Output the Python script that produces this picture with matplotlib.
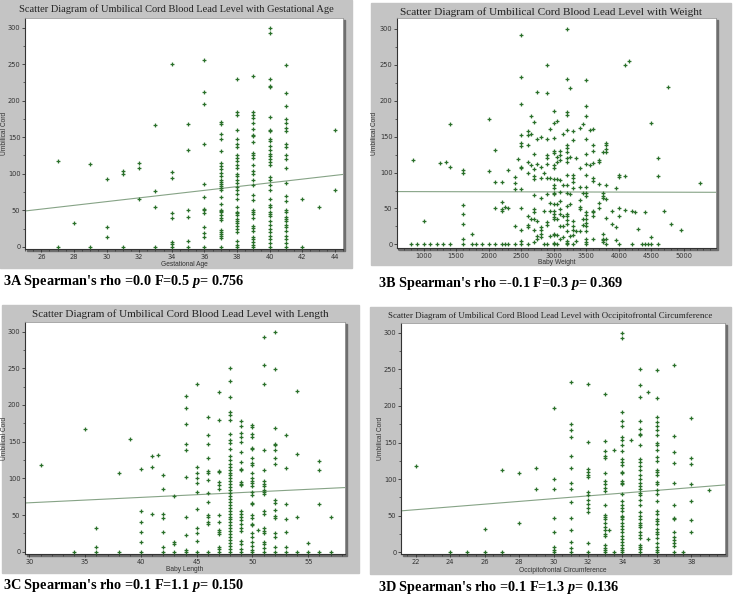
import matplotlib.pyplot as plt
from matplotlib.patches import Rectangle
from matplotlib.ticker import MultipleLocator

plt.rcParams['mathtext.fontset'] = 'custom'
plt.rcParams['mathtext.rm'] = 'Liberation Serif:bold'
plt.rcParams['mathtext.it'] = 'Liberation Serif:italic:bold'

W, H = 736, 607

# lead level (y) per x column
ga_cols = {
    27: [118, 0], 28: [33], 29: [113, 0], 30: [93, 27, 13], 31: [104, 100, 0],
    32: [115, 108, 65], 33: [167, 76, 55, 0], 34: [250, 102, 94, 46, 40, 6, 4, 0],
    35: [168, 132, 50, 41, 8, 0],
    36: [255, 212, 196, 140, 86, 68, 52, 50, 46, 27, 19, 13, 0],
    37: [171, 168, 154, 148, 131, 114, 110, 106, 101, 97, 92, 89, 86, 83, 80, 78,
         68, 58, 51, 49, 47, 44, 40, 37, 23, 20, 17, 15, 12, 0],
    38: [230, 185, 180, 160, 147, 140, 137, 125, 122, 118, 112, 108, 100, 97, 91,
         87, 82, 78, 72, 65, 55, 48, 46, 43, 38, 35, 32, 28, 24, 20, 8, 3, 0],
    39: [234, 184, 180, 176, 170, 161, 153, 151, 144, 129, 126, 121, 112, 104, 99,
         91, 85, 71, 64, 51, 48, 45, 40, 29, 26, 22, 14, 10, 7, 3, 0],
    40: [300, 292, 230, 220, 218, 178, 160, 158, 147, 145, 138, 132, 127, 124, 120,
         116, 112, 95, 91, 85, 78, 65, 57, 54, 47, 45, 42, 35, 30, 24, 20, 15, 10, 5, 0],
    41: [249, 211, 192, 175, 170, 163, 158, 140, 137, 126, 120, 108, 87, 70, 62, 50,
         47, 41, 38, 35, 30, 27, 21, 15, 10, 5, 0],
    42: [65, 0], 43: [55], 44: [160, 78],
}
ga_fit = [49, 99]

wt_cols = {
    800: [0], 830: [118], 900: [0], 1000: [33, 0], 1100: [0], 1200: [0], 1250: [113],
    1300: [0], 1350: [115], 1400: [167, 108, 0], 1600: [104, 100, 55, 42, 28, 7, 0],
    1750: [14, 0], 1800: [0], 1900: [0], 2000: [174, 102, 0], 2100: [132, 87, 51, 0],
    2200: [87, 59, 49, 46, 0], 2250: [52, 0], 2300: [103, 50, 0],
    2400: [94, 86, 77, 25, 0], 2450: [119],
    2500: [292, 233, 196, 152, 141, 137, 108, 106, 77, 50, 20, 5, 0],
    2600: [158, 152, 138, 115, 99, 40, 27, 24, 0], 2650: [178, 154, 110, 36],
    2700: [170, 126, 105, 95, 91, 69, 49, 45, 36, 20, 3],
    2750: [212, 147, 112, 33, 12, 8], 2800: [149, 108, 92, 65, 24, 20, 14, 10],
    2850: [99, 47, 0], 2900: [250, 210, 147, 124, 120, 112, 92, 70, 31, 27, 0],
    2950: [160, 93, 57, 46, 12],
    3000: [185, 169, 148, 130, 127, 110, 106, 91, 82, 78, 72, 70, 56, 47, 43, 38,
           36, 15, 13, 2, 0],
    3050: [172, 122, 114, 91, 56, 36, 13, 0],
    3100: [130, 125, 117, 90, 73, 60, 49, 42, 26, 8], 3150: [154, 82, 40, 25, 10],
    3200: [300, 230, 184, 180, 159, 139, 134, 128, 120, 115, 97, 82, 72, 54, 42, 40,
           34, 28, 18, 5, 2, 0],
    3250: [217, 122, 70, 56, 12], 3300: [158, 145, 97, 93, 87, 78, 32, 26, 20, 13, 0],
    3350: [120, 19, 5], 3400: [162, 107, 80, 62, 52, 49, 18], 3450: [167, 72, 35, 27],
    3500: [229, 192, 179, 146, 126, 112, 96, 80, 71, 68, 45, 41, 36, 30, 26, 18, 8, 3, 0],
    3550: [159, 111], 3600: [160, 138, 130, 113, 92, 88, 47, 45, 40, 7],
    3700: [117, 115, 84, 57, 50], 3750: [128, 72, 68, 65, 15, 8, 6, 3],
    3800: [141, 138, 133, 128, 83, 63, 37, 8, 0], 3900: [47, 28], 3950: [79, 24, 6],
    4000: [97, 94, 50, 40, 0], 4100: [249, 95, 48], 4150: [255], 4200: [46, 0],
    4250: [45], 4300: [22], 4350: [0], 4400: [45, 0], 4450: [0], 4500: [169, 10, 0],
    4600: [120, 95, 0], 4700: [47], 4750: [219], 4800: [28], 4950: [20], 5250: [85],
}
wt_fit = [73.5, 72.5]

len_cols = {
    31: [118], 34: [0], 35: [167], 36: [33, 7, 0], 38: [108, 0], 39: [154],
    40: [113, 55, 41, 27, 14, 0], 41: [131, 115, 51], 41.5: [132],
    42: [104, 86, 52, 46, 27, 6, 0], 43: [76, 14, 11, 0],
    44: [212, 196, 174, 147, 138, 102, 47, 23, 2, 0],
    45: [229, 115, 108, 101, 94, 82, 58, 32, 25, 15, 0],
    46: [184, 159, 147, 128, 110, 108, 98, 80, 68, 50, 47, 40, 38, 0],
    47: [217, 179, 110, 109, 95, 91, 86, 50, 40, 30, 27, 24, 7, 4, 0],
    48: [250, 233, 211, 190, 186, 180, 160, 152, 148, 140, 130, 125, 120, 116, 112,
         108, 104, 100, 96, 92, 88, 84, 80, 76, 72, 68, 64, 60, 55, 52, 48, 44, 40,
         36, 32, 28, 24, 20, 16, 12, 8, 4, 0],
    49: [178, 171, 162, 156, 150, 136, 122, 113, 112, 95, 92, 91, 55, 51, 47, 43, 38,
         33, 28, 15, 10, 4, 0],
    50: [173, 170, 160, 157, 141, 140, 128, 121, 118, 108, 101, 97, 94, 90, 81, 77,
         67, 65, 50, 46, 38, 36, 25, 20, 14, 8, 3, 0],
    50.5: [30],
    51: [292, 255, 229, 138, 111, 97, 93, 90, 84, 81, 79, 55, 51, 32, 28, 25, 14, 10, 5, 0],
    52: [300, 249, 168, 147, 145, 139, 128, 120, 70, 66, 57, 49, 46, 26, 20, 7, 0],
    53: [159, 114, 65, 45, 27, 7, 0], 54: [219, 133, 48, 0], 55: [12, 0],
    56: [124, 112, 65, 0], 57: [47, 0],
}
len_fit = [66.5, 87.5]

ofc_cols = {
    22: [118], 24: [0], 25: [0], 26: [32, 0], 27: [113, 0], 28: [108, 40],
    29: [115, 87], 30: [197, 100, 86, 47, 27, 7, 3, 0],
    31: [233, 175, 167, 158, 132, 115, 95, 86, 68, 47, 30, 14, 6, 0],
    32: [230, 151, 114, 110, 106, 103, 82, 78, 72, 66, 60, 55, 13, 0],
    33: [217, 152, 138, 131, 129, 108, 97, 93, 88, 83, 65, 51, 48, 45, 40, 35, 31,
         25, 22, 10, 6, 3, 0],
    33.2: [30], 33.5: [140, 0],
    34: [300, 293, 192, 180, 172, 158, 153, 146, 138, 128, 124, 119, 110, 108, 98,
         95, 93, 80, 70, 65, 60, 57, 50, 48, 45, 40, 36, 32, 27, 22, 18, 14, 10, 6, 3, 0],
    34.5: [153],
    35: [250, 229, 212, 179, 168, 162, 160, 146, 127, 123, 118, 112, 106, 100, 94,
         91, 86, 81, 78, 72, 65, 55, 50, 45, 40, 37, 34, 28, 24, 20, 10, 7, 4, 0],
    35.5: [219, 18],
    36: [249, 211, 185, 178, 172, 167, 160, 150, 147, 140, 130, 125, 112, 110, 106,
         96, 93, 85, 80, 70, 57, 52, 45, 42, 38, 32, 27, 25, 20, 12, 7, 3, 0],
    37: [256, 159, 137, 122, 95, 65, 47, 45, 28, 21, 17, 12, 8, 0], 37.5: [0],
    38: [184, 129, 120, 93, 70, 44, 27], 39: [85],
}
ofc_fit = [56.5, 92]

fig = plt.figure(figsize=(W / 100, H / 100), dpi=100)

PT_COLOR = '#2a702a'
FIT_COLOR = '#86a386'


def fx(x):
    return x / W


def fy(y):
    return 1 - y / H


def panel(frame, box, xlim, ylim, xmaj, xmin, cols, fit, title, tsize,
          xlabel, xl_y, yl_x, caption, cap_xy):
    l, t, r, b = frame
    fig.patches.append(Rectangle((fx(l), fy(b)), (r - l) / W, (b - t) / H,
                                 transform=fig.transFigure, color='#c4c4c4', zorder=-2))
    al, at, ar, ab = box
    # drop shadow of the plot area
    fig.patches.append(Rectangle((fx(al + 2), fy(ab + 2)), (ar - al) / W, (ab - at) / H,
                                 transform=fig.transFigure, color='#6e6e6e', zorder=-1))
    ax = fig.add_axes([fx(al), fy(ab), (ar - al) / W, (ab - at) / H])
    ax.set_zorder(2)
    ax.set_facecolor('white')
    xs, ys = [], []
    for k, vals in cols.items():
        xs += [k] * len(vals)
        ys += vals
    ax.plot(xs, ys, linestyle='none', marker='P', ms=2.8, mew=0, color=PT_COLOR,
            clip_on=False, zorder=3)
    ax.plot(xlim, fit, color=FIT_COLOR, lw=0.8, zorder=2)
    ax.set_xlim(xlim)
    ax.set_ylim(ylim)
    ax.xaxis.set_major_locator(MultipleLocator(xmaj))
    ax.xaxis.set_minor_locator(MultipleLocator(xmin))
    ax.yaxis.set_major_locator(MultipleLocator(50))
    ax.yaxis.set_minor_locator(MultipleLocator(25))
    ax.tick_params(which='major', length=2.5, width=0.6, labelsize=4.8, pad=0.8,
                   colors='#333333')
    ax.tick_params(which='minor', length=1.6, width=0.5, colors='#333333')
    for s in ['left', 'bottom']:
        ax.spines[s].set_linewidth(0.8)
        ax.spines[s].set_color('#333333')
    ax.spines['top'].set_color('#9a9a9a')
    ax.spines['right'].set_color('#9a9a9a')
    ax.spines['top'].set_linewidth(0.6)
    ax.spines['right'].set_linewidth(0.6)
    cx = (l + r) / 2
    fig.text(fx(cx), fy(t + 9), title, ha='center', va='center',
             family='Liberation Serif', fontsize=tsize, color='#222222')
    fig.text(fx((al + ar) / 2), fy(xl_y), xlabel, ha='center', va='center',
             family='Liberation Sans', fontsize=4.8, color='#333333')
    fig.text(fx(yl_x), fy((at + ab) / 2), 'Umbilical Cord', ha='center', va='center',
             rotation=90, family='Liberation Sans', fontsize=4.8, color='#333333')
    fig.text(fx(cap_xy[0]), fy(cap_xy[1]), caption, ha='left', va='center',
             family='Liberation Serif', fontweight='bold', fontsize=10.3)
    return ax


panel((0, 0, 352, 268), (25, 18, 343, 249), (25, 44.5), (-3, 313), 2, 0.5,
      ga_cols, ga_fit,
      'Scatter Diagram of Umbilical Cord Blood Lead Level with Gestational Age', 7.5,
      'Gestational Age', 264, 5,
      r"3A Spearman's rho =0.0 F=0.5 $p$= 0.756", (3, 281))

panel((371, 3, 731, 265), (397, 18, 716, 248), (590, 5495), (-5, 315), 500, 100,
      wt_cols, wt_fit,
      'Scatter Diagram of Umbilical Cord Blood Lead Level with Weight', 8.1,
      'Baby Weight', 262.5, 375,
      r"3B Spearman's rho =-0.1 F=0.3 $p$= 0.369", (378, 284))

panel((2, 305, 359, 573), (25, 322, 345, 554), (29.6, 58.3), (-3, 313), 5, 1,
      len_cols, len_fit,
      'Scatter Diagram of Umbilical Cord Blood Lead Level with Length', 8.0,
      'Baby Length', 569.5, 5,
      r"3C Spearman's rho =0.1 F=1.1 $p$= 0.150", (3, 586))

panel((370, 307, 731, 574), (401, 323, 725, 554), (21.15, 39.95), (-2.5, 313.5), 2, 0.5,
      ofc_cols, ofc_fit,
      'Scatter Diagram of Umbilical Cord Blood Lead Level with Occipitofrontal Circumference', 6.4,
      'Occipitofrontal Circumference', 570, 380,
      r"3D Spearman's rho =0.1 F=1.3 $p$= 0.136", (378, 587))

fig.savefig('out.png', dpi=100)
